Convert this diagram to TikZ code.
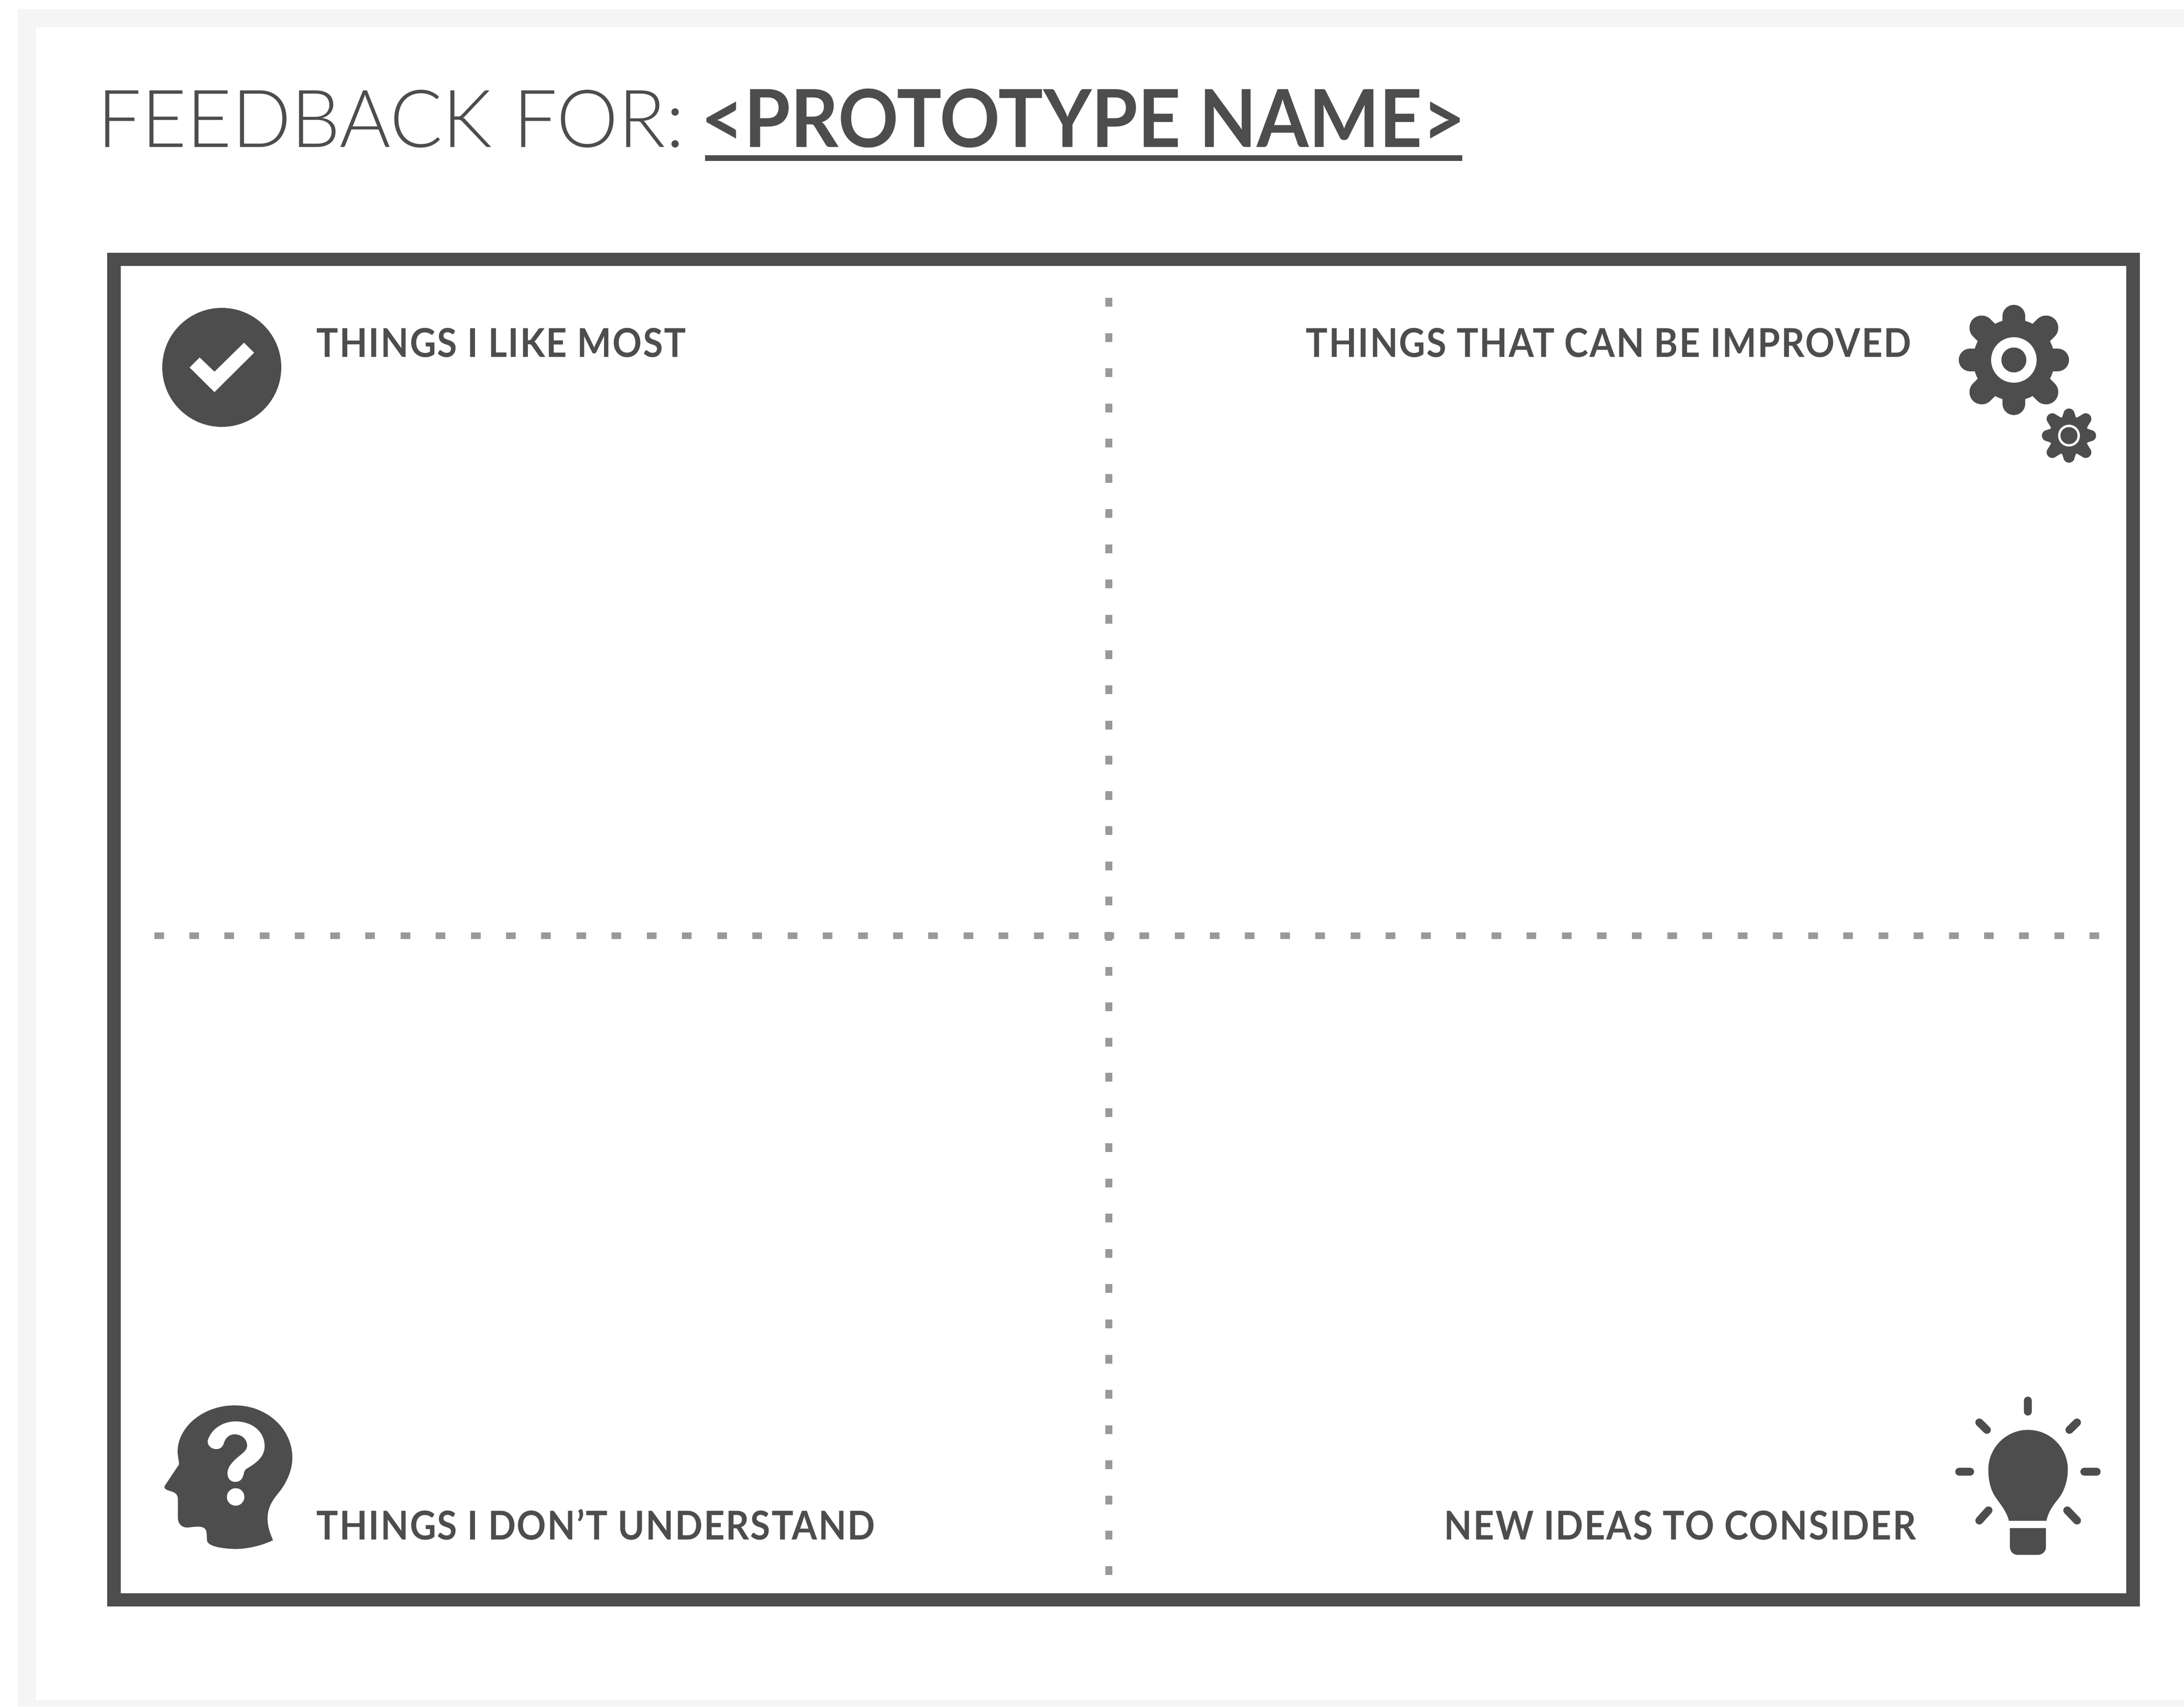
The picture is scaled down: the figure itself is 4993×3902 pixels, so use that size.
\documentclass[tikz,border=0pt]{standalone}
\usepackage{fontspec}
\setmainfont{Lato}
\newfontfamily\titlelight[FakeStretch=0.975]{Lato Light}
\newfontfamily\titlebold[FakeStretch=0.935]{Lato Bold}
\newfontfamily\labelbold[LetterSpace=3,FakeStretch=0.915]{Lato Bold}
\definecolor{ink}{HTML}{4D4D4D}
\definecolor{page}{HTML}{F5F5F5}
\definecolor{dot}{HTML}{999999}
\tikzset{
  title light/.style={anchor=base west,inner sep=0pt,text=ink,font=\titlelight\fontsize{52}{60}\selectfont},
  title bold/.style={anchor=base west,inner sep=0pt,text=ink,font=\titlebold\fontsize{52}{60}\selectfont},
  quadrant left/.style={anchor=base west,inner sep=0pt,text=ink,font=\labelbold\fontsize{25.8}{30}\selectfont},
  quadrant right/.style={anchor=base east,inner sep=0pt,text=ink,font=\labelbold\fontsize{25.8}{30}\selectfont},
  ray/.style={draw=ink,line width=0.18cm,line cap=round},
}
\begin{document}
\begin{tikzpicture}[x=0.01cm,y=-0.01cm]
\useasboundingbox (0,0) rectangle (4993,3902);
% page band
\fill[white] (0,0) rectangle (4993,3902);
\fill[page] (41,21) rectangle (4993,3902);
\fill[white] (82,62) rectangle (4993,3888);
% title
\node[title light] (titleA) at (222,336) {FEEDBACK FOR:};
\node[title bold] (titleB) at (1602,336) {<PROTOTYPE NAME>};
\fill[ink] (1612,355) rectangle (3343,368);
% frame
\fill[ink,even odd rule] (245,578) rectangle (4892,3673) (276,608) rectangle (4861,3643);
% dotted lines
\foreach \i in {0,...,36} {
  \fill[dot] ({2527},{691+80.55*\i-10}) rectangle ++(16,20);
}
\foreach \i in {0,...,55} {
  \fill[dot] ({363.5+80.45*\i-11},2132) rectangle ++(22,15);
}
% labels
\node[quadrant left] (like) at (723,816) {THINGS I LIKE MOST};
\node[quadrant right] (improve) at (4370,816) {THINGS THAT CAN BE IMPROVED};
\node[quadrant left] (dont) at (723,3520) {THINGS I DON’T UNDERSTAND};
\node[quadrant right] (ideas) at (4381,3520) {NEW IDEAS TO CONSIDER};
% check icon
\fill[ink] (507,840) circle[radius=136];
\begin{scope}[shift={(0,0)},x=0.01cm/1.568,y=-0.01cm/1.568]
\fill[white] (680,1318) -- (716,1282) -- (769,1333) -- (875,1229) -- (911,1265) -- (769,1406) -- cycle;
\end{scope}
% big gear
\begin{scope}[shift={(4604,823)}]
\fill[ink] (0,0) circle[radius=93];
\foreach \a in {0,90,180,270} {
  \draw[ink,line width=0.52cm,line cap=round] (0,0) -- (\a:100);
}
\foreach \a in {45,135,225,315} {
  \draw[ink,line width=0.56cm,line cap=round] (0,0) -- (\a:104);
}
\fill[white] (0,0) circle[radius=52];
\fill[ink] (0,0) circle[radius=28.5];
\end{scope}
% small gear
\begin{scope}[shift={(4730,996)}]
\fill[ink] (0,0) circle[radius=45];
\foreach \a in {0,90,180,270} {
  \begin{scope}[rotate=\a]
    \fill[ink] (35,-18) -- (50,-13) -- (50,13) -- (35,18) -- cycle;
    \fill[ink] (49,0) circle[radius=13];
  \end{scope}
}
\foreach \a in {45,135,225,315} {
  \begin{scope}[rotate=\a]
    \fill[ink] (35,-18) -- (54,-13) -- (54,13) -- (35,18) -- cycle;
    \fill[ink] (54,0) circle[radius=13];
  \end{scope}
}
\fill[white] (0,0) circle[radius=25];
\fill[ink] (0,0) circle[radius=19.5];
\end{scope}
% head icon
\begin{scope}[shift={(300,3150)},x=0.01cm/3,y=-0.01cm/3]
\fill[ink] (710,190) .. controls (930,190) and (1105,350) .. (1105,550)
  .. controls (1105,640) and (1060,730) .. (1010,790)
  .. controls (960,850) and (935,900) .. (935,965)
  .. controls (935,1030) and (955,1070) .. (972,1115)
  .. controls (900,1150) and (800,1175) .. (710,1175)
  .. controls (630,1172) and (540,1160) .. (522,1125)
  .. controls (515,1090) and (522,1060) .. (510,1040)
  .. controls (490,1015) and (450,1020) .. (390,1028)
  .. controls (345,1030) and (320,1000) .. (320,960)
  -- (320,830) .. controls (318,790) and (290,785) .. (260,775)
  .. controls (240,770) and (225,760) .. (228,745)
  -- (328,595) .. controls (328,570) and (318,540) .. (318,500)
  .. controls (325,330) and (500,190) .. (710,190) -- cycle;
\fill[white] (525,430) .. controls (550,350) and (630,300) .. (715,300)
  .. controls (830,300) and (915,370) .. (915,470)
  .. controls (915,540) and (860,585) .. (790,625)
  .. controls (770,640) and (775,660) .. (765,680)
  .. controls (755,705) and (735,715) .. (715,715)
  .. controls (680,715) and (660,690) .. (660,655)
  .. controls (660,610) and (700,570) .. (750,530)
  .. controls (780,505) and (795,490) .. (795,465)
  .. controls (795,420) and (755,388) .. (710,388)
  .. controls (670,388) and (645,415) .. (635,450)
  .. controls (625,480) and (605,490) .. (585,490)
  .. controls (545,490) and (520,460) .. (525,430) -- cycle;
\fill[white] (716,818) circle[radius=60];
\end{scope}
% bulb icon
\begin{scope}[shift={(4400,3130)},x=0.01cm/3,y=-0.01cm/3]
\fill[ink] (578,1042) .. controls (565,980) and (520,930) .. (480,870)
  .. controls (450,820) and (437,760) .. (437,690)
  .. controls (437,540) and (560,418) .. (708,418)
  .. controls (860,418) and (982,540) .. (982,690)
  .. controls (982,760) and (960,830) .. (925,880)
  .. controls (890,925) and (850,970) .. (835,1042) -- cycle;
\fill[ink] (585,1092) -- (832,1092) -- (832,1220)
  .. controls (832,1255) and (805,1275) .. (775,1275)
  -- (640,1275) .. controls (610,1275) and (585,1255) .. (585,1220) -- cycle;
\draw[ray] (708,217) -- (708,293);
\draw[ray] (375,367) -- (427,418);
\draw[ray] (1045,367) -- (993,418);
\draw[ray] (237,705) -- (312,705);
\draw[ray] (1095,705) -- (1180,705);
\draw[ray] (438,970) -- (375,1040);
\draw[ray] (978,970) -- (1045,1040);
\end{scope}
\end{tikzpicture}
\end{document}
